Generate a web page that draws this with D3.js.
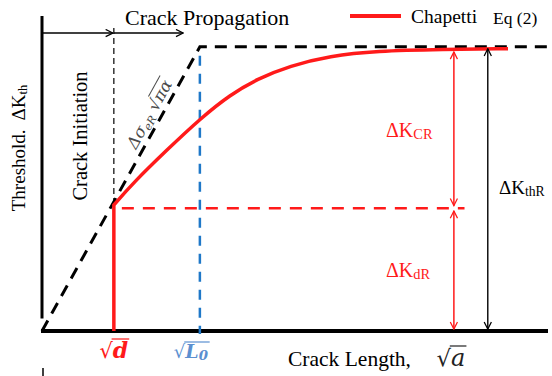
<!DOCTYPE html>
<html>
<head>
<meta charset="utf-8">
<script src="https://cdn.jsdelivr.net/npm/d3@7"></script>
<style>
  body { margin: 0; background: #fff; }
  text { font-family: "Liberation Serif", "Times New Roman", serif; }
</style>
</head>
<body>
<div id="graph"></div>
<script>
// values in chart units (x: sqrt crack length, y: threshold), 0..100
var sqrtD = 14.2,
    sqrtL0 = 31.2,
    dKdR = 39.0,
    dKthR = 90.2;

var chapettiX = [14.2, 18.0, 24.7, 31.4, 37.2, 42.5, 49.0, 56.9, 66.0, 79.2, 92.1];
var chapettiY = [40.0, 47.0, 57.5, 67.6, 75.0, 80.0, 84.2, 87.3, 88.9, 89.4, 89.6];

var envelopeX = [0, 31.2, 100];
var envelopeY = [0, 90.2, 90.2];

var arrowCR = 81.4,
    arrowThR = 88.1,
    topArrowY = 94.6,
    propEnd = 27.9;

var width = 552, height = 376;
var red = '#ff1a1a', blue = '#1f78c8';

var svg = d3.select('#graph')
    .append('svg')
        .attr('width', width)
        .attr('height', height);

var x = d3.scaleLinear().domain([0, 100]).range([42, 548]);
var y = d3.scaleLinear().domain([0, 100]).range([331, 16]);

var defs = svg.append('defs');
function marker(id, color) {
    defs.append('marker')
        .attr('id', id)
        .attr('viewBox', '0 0 10 10')
        .attr('refX', 9).attr('refY', 5)
        .attr('markerWidth', 9).attr('markerHeight', 9)
        .attr('markerUnits', 'userSpaceOnUse')
        .attr('orient', 'auto-start-reverse')
        .append('path')
            .attr('d', 'M1,1 L9,5 L1,9')
            .attr('fill', 'none')
            .attr('stroke', color)
            .attr('stroke-width', 1.4);
}
marker('arrBlack', '#000');
marker('arrRed', red);

// axes
svg.append('line')
    .attr('x1', x(0)).attr('x2', x(0))
    .attr('y1', y(100)).attr('y2', y(4))
    .attr('stroke', '#000').attr('stroke-width', 3);
svg.append('line')
    .attr('x1', x(0) - 1).attr('x2', x(100))
    .attr('y1', y(0)).attr('y2', y(0))
    .attr('stroke', '#000').attr('stroke-width', 4);
svg.append('line')
    .attr('x1', 43).attr('x2', 43)
    .attr('y1', 368).attr('y2', 376)
    .attr('stroke', '#000').attr('stroke-width', 1.5);

// top arrows
svg.append('line')
    .attr('x1', x(0)).attr('x2', x(sqrtD) - 1)
    .attr('y1', y(topArrowY)).attr('y2', y(topArrowY))
    .attr('stroke', '#000').attr('stroke-width', 1.3)
    .attr('marker-end', 'url(#arrBlack)');
svg.append('line')
    .attr('x1', x(sqrtD)).attr('x2', x(propEnd))
    .attr('y1', y(topArrowY)).attr('y2', y(topArrowY))
    .attr('stroke', '#000').attr('stroke-width', 1.3)
    .attr('marker-end', 'url(#arrBlack)');

// thin dashed at sqrt(d)
svg.append('line')
    .attr('x1', x(sqrtD)).attr('x2', x(sqrtD))
    .attr('y1', y(topArrowY) - 5).attr('y2', y(dKdR))
    .attr('stroke', '#000').attr('stroke-width', 1.2)
    .attr('stroke-dasharray', '6,4');

// blue dashed at sqrt(L0)
svg.append('line')
    .attr('x1', x(sqrtL0)).attr('x2', x(sqrtL0))
    .attr('y1', y(dKthR) + 9).attr('y2', y(0) + 3)
    .attr('stroke', blue).attr('stroke-width', 2.5)
    .attr('stroke-dasharray', '10,8');

// red dashed dK_dR level
svg.append('line')
    .attr('x1', x(sqrtD) + 8).attr('x2', x(83.5))
    .attr('y1', y(dKdR)).attr('y2', y(dKdR))
    .attr('stroke', red).attr('stroke-width', 2.5)
    .attr('stroke-dasharray', '12,9');

// black dashed envelope
var line = d3.line().x(function(d) { return x(d[0]); }).y(function(d) { return y(d[1]); });
svg.append('path')
    .datum(d3.zip(envelopeX, envelopeY))
    .attr('d', line)
    .attr('fill', 'none')
    .attr('stroke', '#000').attr('stroke-width', 3)
    .attr('stroke-dasharray', '12,8');

// red Chapetti curve: vertical jump at sqrt(d), then smooth rise
var curve = d3.line()
    .x(function(d) { return x(d[0]); })
    .y(function(d) { return y(d[1]); })
    .curve(d3.curveBasis);
var curveD = curve(d3.zip(chapettiX, chapettiY)).replace(/^M/, 'M' + x(sqrtD) + ',' + y(0) + 'L');
svg.append('path')
    .attr('d', curveD)
    .attr('fill', 'none')
    .attr('stroke', red).attr('stroke-width', 3.5);

// dimension arrows
function vArrow(xv, y1, y2, color, mk, w) {
    svg.append('line')
        .attr('x1', x(xv)).attr('x2', x(xv))
        .attr('y1', y(y1)).attr('y2', y(y2))
        .attr('stroke', color).attr('stroke-width', w)
        .attr('marker-start', 'url(#' + mk + ')')
        .attr('marker-end', 'url(#' + mk + ')');
}
vArrow(arrowCR, 88.6, dKdR + 0.8, red, 'arrRed', 1.5);
vArrow(arrowCR, dKdR - 0.9, 0.6, red, 'arrRed', 1.5);
vArrow(arrowThR, 89.6, 0.6, '#000', 'arrBlack', 1.4);

// labels
function dK(xp, yp, sub, color, size) {
    var t = svg.append('text')
        .attr('x', xp).attr('y', yp)
        .attr('fill', color)
        .style('font-size', size + 'px');
    t.append('tspan').text('ΔK');
    t.append('tspan').text(sub).style('font-size', (size * 0.72) + 'px').attr('dy', 2);
    return t;
}
dK(386, 137, 'CR', red, 20);
dK(386, 277, 'dR', red, 20);
dK(499, 194, 'thR', '#000', 19);

svg.append('text')
    .attr('x', 125).attr('y', 25)
    .style('font-size', '22px')
    .text('Crack Propagation');

// legend
svg.append('line')
    .attr('x1', 350).attr('x2', 401)
    .attr('y1', 16).attr('y2', 16)
    .attr('stroke', red).attr('stroke-width', 4);
svg.append('text')
    .attr('x', 411).attr('y', 23)
    .style('font-size', '19.5px')
    .text('Chapetti');
svg.append('text')
    .attr('x', 493).attr('y', 24)
    .style('font-size', '17.5px')
    .text('Eq (2)');

// rotated labels
var yl = svg.append('text')
    .attr('transform', 'translate(25,148) rotate(-90)')
    .attr('text-anchor', 'middle')
    .style('font-size', '19px');
yl.append('tspan').text('Threshold.');
yl.append('tspan').text('ΔK').attr('dx', 9);
yl.append('tspan').text('th').style('font-size', '12.5px').attr('dy', 2);

svg.append('text')
    .attr('transform', 'translate(87,136) rotate(-90)')
    .attr('text-anchor', 'middle')
    .style('font-size', '20.5px')
    .text('Crack Initiation');

// slope label, set along the dashed envelope
var sl = svg.append('g')
    .attr('transform', 'translate(136,150) rotate(-61)');
var slt = sl.append('text')
    .attr('fill', '#4a4a4a')
    .style('font-family', '"DejaVu Serif", serif')
    .style('font-style', 'italic')
    .style('font-size', '16.5px');
slt.append('tspan').text('Δσ');
slt.append('tspan').text('eR').style('font-size', '11px').attr('dy', 3);
slt.append('tspan').text(' √').attr('dy', -3).style('font-style', 'normal');
var slRad = slt.append('tspan').text('πα');

// x tick labels with radicals
function radical(xp, yp, body, color, opts) {
    var t = svg.append('text')
        .attr('x', xp).attr('y', yp)
        .attr('fill', color)
        .attr('text-anchor', 'middle')
        .style('font-size', opts.size + 'px');
    t.append('tspan').text('√').style('font-family', '"DejaVu Serif", serif').style('font-size', (opts.size * 0.95) + 'px');
    var b = t.append('tspan')
        .style('font-family', '"DejaVu Serif", serif')
        .style('font-style', 'italic')
        .style('font-weight', opts.bold ? 'bold' : 'normal');
    b.append('tspan').text(body);
    if (opts.sub) b.append('tspan').text(opts.sub).style('font-size', (opts.size * 0.7) + 'px').attr('dy', 2);
    var bb = t.node().getBBox();
    svg.append('line')
        .attr('x1', bb.x + opts.size * 0.55).attr('x2', bb.x + bb.width + 1)
        .attr('y1', bb.y + 2).attr('y2', bb.y + 2)
        .attr('stroke', color).attr('stroke-width', 1.2);
}
radical(x(sqrtD), 358, 'd', red, { size: 22, bold: true });
radical(x(sqrtL0) - 9, 358, 'L', '#5b8fd0', { size: 19, bold: true, sub: '0' });

svg.append('text')
    .attr('x', 288).attr('y', 366)
    .style('font-size', '21.5px')
    .text('Crack Length,');
radical(451, 366, 'a', '#222', { size: 24, bold: false });

// overline on slope-label radicand
var rb = slRad.node().getComputedTextLength();
var st = slt.node().getComputedTextLength();
sl.append('line')
    .attr('x1', st - rb - 1).attr('x2', st + 1)
    .attr('y1', -15).attr('y2', -15)
    .attr('stroke', '#4a4a4a').attr('stroke-width', 1);
</script>
</body>
</html>
